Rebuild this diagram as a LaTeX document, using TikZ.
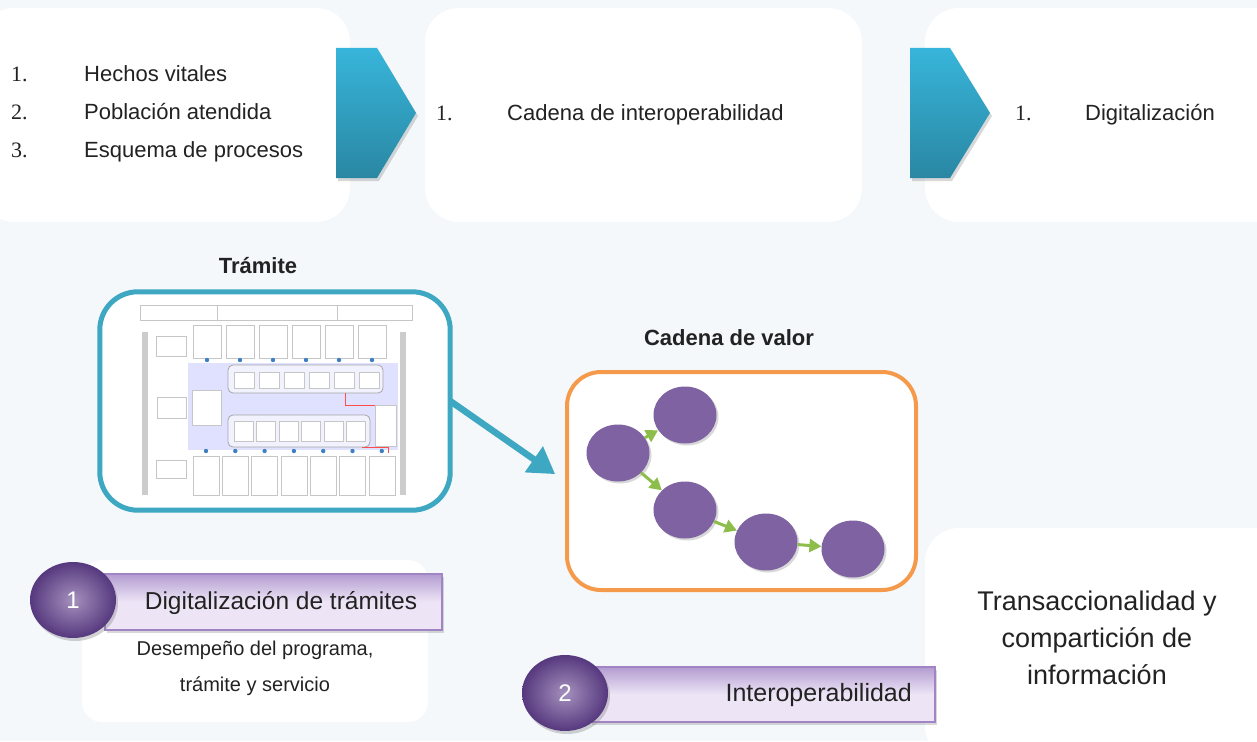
\documentclass[tikz,border=0pt]{standalone}
\usepackage{fontspec}
\setmainfont{Liberation Sans}
\newfontfamily\numfont{Liberation Serif}
\usetikzlibrary{positioning, arrows.meta, shadows, shapes.geometric}

\definecolor{fondo}{HTML}{F4F8FB}
\definecolor{chevA}{HTML}{37B5DA}
\definecolor{chevB}{HTML}{2A87A3}
\definecolor{tealborde}{HTML}{3EA8C2}
\definecolor{naranja}{HTML}{F5994A}
\definecolor{morado}{HTML}{7E62A1}
\definecolor{moradoosc}{HTML}{56387E}
\definecolor{lila}{HTML}{EDE5F6}
\definecolor{lilaborde}{HTML}{A084C4}
\definecolor{verde}{HTML}{8DBE4C}
\definecolor{puntoazul}{HTML}{3D7FC4}
\definecolor{texto}{HTML}{222222}

\begin{document}
\begin{tikzpicture}[x=1pt, y=-1pt, >=stealth, text=texto]
    % Estilos
    \tikzstyle{caja}=[rectangle, fill=white, draw=none, rounded corners=34pt, inner sep=0pt]
    \tikzstyle{chevron}=[top color=chevA, bottom color=chevB, draw=none, drop shadow={opacity=0.3, shadow xshift=2pt, shadow yshift=-3pt}]
    \tikzstyle{item}=[font=\fontsize{22}{26}\selectfont, inner sep=0pt]
    \tikzstyle{num}=[font=\numfont\fontsize{22}{26}\selectfont, inner sep=0pt]
    \tikzstyle{titulo}=[font=\bfseries\fontsize{22}{26}\selectfont, inner sep=0pt]
    \tikzstyle{marco}=[rectangle, fill=white, rounded corners=38pt, inner sep=0pt]
    \tikzstyle{etapa}=[ellipse, fill=morado, minimum width=63pt, minimum height=57pt, drop shadow={opacity=0.3, shadow xshift=2pt, shadow yshift=-2pt}]
    \tikzstyle{flechaverde}=[-{Triangle[length=12pt, width=13pt]}, line width=3pt, draw=verde]
    \tikzstyle{flechagrande}=[-{Triangle[length=26pt, width=30pt]}, line width=6.5pt, draw=tealborde, shorten >=12pt]
    \tikzstyle{bola}=[ellipse, minimum width=86pt, minimum height=76pt, inner color=morado!70!white, outer color=moradoosc, text=white, font=\fontsize{24}{28}\selectfont, drop shadow={opacity=0.35, shadow xshift=2pt, shadow yshift=-3pt}]
    \tikzstyle{etiqueta}=[rectangle, top color=lilaborde!75!lila, bottom color=lila, middle color=lila, draw=lilaborde, line width=1.2pt, inner sep=0pt, drop shadow={opacity=0.3, shadow xshift=2pt, shadow yshift=-3pt}]
    \tikzstyle{celda}=[draw=gray!45, fill=white, line width=0.6pt]
    \tikzstyle{grupo}=[draw=gray!70, fill=blue!5, rounded corners=5pt, line width=0.8pt]

    % Fondo
    \fill[fondo] (0,0) rectangle (1257,741);
    \useasboundingbox (0,0) rectangle (1257,741);

    % Cajas superiores
    \node[caja, minimum width=370pt, minimum height=214pt] (paso1) at (165,115) {};
    \node[caja, minimum width=437pt, minimum height=214pt] (paso2) at (643.5,115) {};
    \node[caja, minimum width=365pt, minimum height=214pt] (paso3) at (1107.5,115) {};

    % Flechas tipo chevron
    \path[chevron] (336,48) -- (377,48) -- (416,113) -- (377,178) -- (336,178) -- cycle;
    \path[chevron] (910,48) -- (950,48) -- (990,113) -- (950,178) -- (910,178) -- cycle;

    % Textos superiores
    \node[num, anchor=base west] (n1) at (11,82) {1.};
    \node[num, anchor=base west] (n2) at (11,119.5) {2.};
    \node[num, anchor=base west] (n3) at (11,157) {3.};
    \node[item, anchor=base west] (h1) at (84,82) {Hechos vitales};
    \node[item, anchor=base west] (h2) at (84,119.5) {Población atendida};
    \node[item, anchor=base west] (h3) at (84,157) {Esquema de procesos};
    \node[num, anchor=base west] (m1) at (436,121) {1.};
    \node[item, anchor=base west] (c1) at (507,121) {Cadena de interoperabilidad};
    \node[num, anchor=base west] (d1) at (1015,121) {1.};
    \node[item, anchor=base west] (g1) at (1085,121) {Digitalización};

    % Trámite
    \node[titulo] (ttramite) at (258,266) {Trámite};
    \node[marco, minimum width=350pt, minimum height=218pt] (tramite) at (275,401) {};
    % esquema reducido del trámite
    \draw[celda] (140,305) rectangle (217,320);
    \draw[celda] (217,305) rectangle (337,320);
    \draw[celda] (337,305) rectangle (412,320);
    \fill[gray!40] (142,332) rectangle (148,495);
    \fill[gray!40] (400,332) rectangle (406,495);
    \fill[blue!12] (188,363) rectangle (398,450);
    \draw[celda] (156,336) rectangle (186,356);
    \foreach \i in {0,...,5} {
        \draw[celda] (193+\i*33,325) rectangle (221+\i*33,358);
        \fill[puntoazul] (207+\i*33,360) circle (2.2);
    }
    \draw[grupo] (228,365) rectangle (383,393);
    \foreach \i in {0,...,5}
        \draw[celda] (234+\i*25,372) rectangle (254+\i*25,388);
    \draw[grupo] (228,415) rectangle (370,447);
    \foreach \i in {0,...,5}
        \draw[celda] (234+\i*22.5,421) rectangle (253+\i*22.5,441);
    \draw[celda] (157,397) rectangle (186,418);
    \draw[celda] (192,390) rectangle (221,425);
    \draw[celda] (375,405) rectangle (396,446);
    \draw[red!70, line width=0.6pt] (345,393) -- (345,405) -- (375,405);
    \draw[red!70, line width=0.6pt] (362,447) -- (388,447) -- (388,453);
    \draw[celda] (156,460) rectangle (186,478);
    \foreach \i in {0,...,6} {
        \draw[celda] (193+\i*29.3,456) rectangle (219+\i*29.3,495);
        \fill[puntoazul] (206+\i*29.3,451) circle (2.2);
    }
    \draw[tealborde, line width=5pt, rounded corners=38pt] (tramite.north west) rectangle (tramite.south east);

    % Cadena de valor
    \node[titulo] (tcadena) at (729,338) {Cadena de valor};
    \node[marco, draw=naranja, line width=4pt, rounded corners=34pt, minimum width=349pt, minimum height=218pt] (cadena) at (741.5,481) {};
    \draw[flechagrande] (tramite.east) -- (cadena.west);

    \node[etapa] (e1) at (618,453) {};
    \node[etapa] (e2) at (685,415) {};
    \node[etapa] (e3) at (685,510) {};
    \node[etapa] (e4) at (766,542) {};
    \node[etapa] (e5) at (853,549) {};
    \draw[flechaverde] (e1) -- (e2);
    \draw[flechaverde] (e1) -- (e3);
    \draw[flechaverde] (e3) -- (e4);
    \draw[flechaverde] (e4) -- (e5);

    % Transaccionalidad
    \node[caja, minimum width=365pt, minimum height=232pt] (cajatrans) at (1107.5,644) {};
    \node[font=\fontsize{27}{37}\selectfont, align=center, inner sep=0pt] (ttrans) at (1097,638) {Transaccionalidad y\\compartición de\\información};

    % Etiqueta 1
    \node[caja, rounded corners=20pt, minimum width=346pt, minimum height=162pt] (cajadesc) at (255,641) {};
    \node[etiqueta, minimum width=337pt, minimum height=56pt] (etiq1) at (273.5,602) {};
    \node[bola] (b1) at (73,600) {1};
    \node[font=\fontsize{24.5}{28}\selectfont, inner sep=0pt] (tdig) at (281,603) {Digitalización de trámites};
    \node[font=\fontsize{20}{36}\selectfont, align=center, inner sep=0pt] (desc) at (255,668) {Desempeño del programa,\\trámite y servicio};

    % Etiqueta 2
    \node[etiqueta, minimum width=345pt, minimum height=55pt] (etiq2) at (762.5,694.5) {};
    \node[bola] (b2) at (565,693) {2};
    \node[font=\fontsize{25}{28}\selectfont, inner sep=0pt, anchor=east] (tinter) at (912,695) {Interoperabilidad};

\end{tikzpicture}
\end{document}
